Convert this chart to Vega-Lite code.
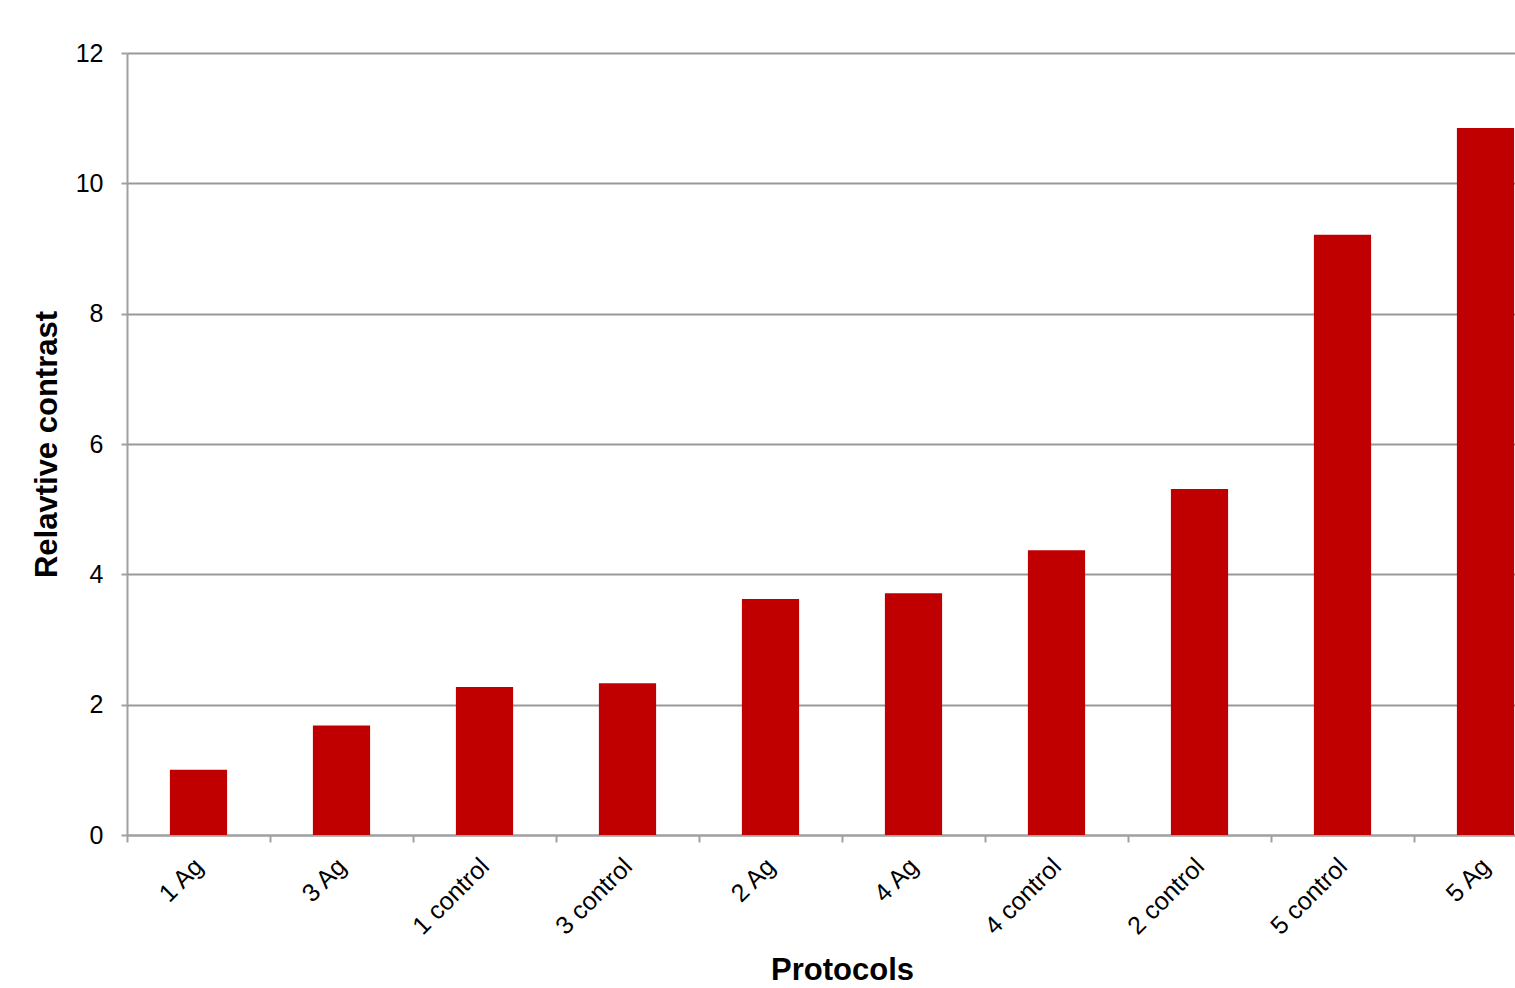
{
  "$schema": "https://vega.github.io/schema/vega-lite/v6.json",
  "autosize": {"type": "none"},
  "width": 1430,
  "height": 782,
  "padding": {"left": 127, "top": 53, "right": -42, "bottom": 153},
  "background": "white",
  "data": {"values": [
    {"protocol": "1 Ag", "value": 1.0},
    {"protocol": "3 Ag", "value": 1.68},
    {"protocol": "1 control", "value": 2.27},
    {"protocol": "3 control", "value": 2.33},
    {"protocol": "2 Ag", "value": 3.62},
    {"protocol": "4 Ag", "value": 3.71},
    {"protocol": "4 control", "value": 4.37},
    {"protocol": "2 control", "value": 5.31},
    {"protocol": "5 control", "value": 9.21},
    {"protocol": "5 Ag", "value": 10.85}
  ]},
  "mark": {"type": "bar", "color": "#C00000", "width": {"band": 0.4}},
  "encoding": {
    "x": {
      "field": "protocol", "type": "nominal", "sort": null,
      "scale": {"paddingInner": 0, "paddingOuter": 0},
      "axis": {
        "title": "Protocols", "titleFont": "Liberation Sans", "titleFontSize": 31, "titleFontWeight": "bold", "titleColor": "#000", "titlePadding": 17,
        "labelFont": "Liberation Sans", "labelFontSize": 25, "labelColor": "#000", "labelAngle": -45, "labelAlign": "right", "labelBaseline": "middle", "labelPadding": 20,
        "tickBand": "extent", "tickColor": "#a0a0a0", "tickWidth": 2, "tickSize": 7,
        "domainColor": "#a0a0a0", "domainWidth": 2, "grid": false
      }
    },
    "y": {
      "field": "value", "type": "quantitative",
      "scale": {"domain": [0, 12]},
      "axis": {
        "title": "Relavtive contrast", "titleFont": "Liberation Sans", "titleFontSize": 31, "titleFontWeight": "bold", "titleColor": "#000", "titlePadding": 12,
        "values": [0, 2, 4, 6, 8, 10, 12],
        "labelFont": "Liberation Sans", "labelFontSize": 25, "labelColor": "#000", "labelPadding": 18,
        "tickColor": "#a0a0a0", "tickWidth": 2, "tickSize": 6,
        "domainColor": "#a0a0a0", "domainWidth": 2,
        "grid": true, "gridColor": "#999999", "gridWidth": 2
      }
    }
  },
  "config": {"view": {"stroke": null}}
}
